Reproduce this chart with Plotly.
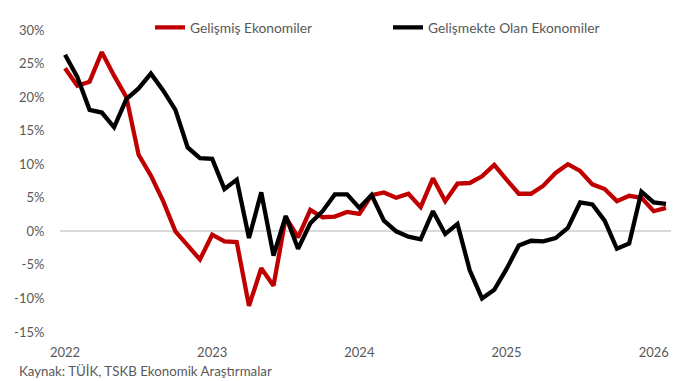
import plotly.graph_objects as go

months = [f"{y}-{m:02d}" for y in range(2022, 2027) for m in range(1, 13)][:50]

gelismis = [24.3, 21.7, 22.3, 26.7, 23.2, 20.0, 11.4, 8.3, 4.5, 0.0,
            -2.1, -4.2, -0.5, -1.5, -1.6, -11.1, -5.5, -8.1, 2.1, -0.9,
            3.2, 2.1, 2.2, 2.9, 2.6, 5.4, 5.8, 5.0, 5.6, 3.6,
            7.9, 4.5, 7.1, 7.2, 8.2, 9.9, 7.7, 5.6, 5.6, 6.8,
            8.7, 10.0, 9.0, 7.0, 6.3, 4.5, 5.3, 5.0, 3.0, 3.5]

gelismekte = [26.3, 23.0, 18.1, 17.7, 15.5, 19.7, 21.3, 23.5, 21.0, 18.1,
              12.5, 10.9, 10.8, 6.3, 7.7, -1.0, 5.8, -3.6, 2.3, -2.6,
              1.2, 3.0, 5.5, 5.5, 3.5, 5.4, 1.6, 0.0, -0.8, -1.2,
              3.0, -0.4, 1.1, -5.8, -10.0, -8.7, -5.6, -2.1, -1.4, -1.5,
              -1.0, 0.5, 4.3, 4.0, 1.6, -2.6, -1.8, 5.9, 4.3, 4.1]

x_tickvals = ["2022-01", "2023-01", "2024-01", "2025-01", "2026-01"]
x_ticktext = ["2022", "2023", "2024", "2025", "2026"]
y_tickvals = [-15, -10, -5, 0, 5, 10, 15, 20, 25, 30]
y_ticktext = ["-15%", "-10%", "-5%", "0%", "5%", "10%", "15%", "20%", "25%", "30%"]

FONT = "Lato"
GRAY = "#595959"

fig = go.Figure()
fig.add_trace(go.Scatter(x=months, y=gelismis, mode="lines", name="Gelişmiş Ekonomiler",
                         line=dict(color="#C00000", width=4.3), legend="legend"))
fig.add_trace(go.Scatter(x=months, y=gelismekte, mode="lines", name="Gelişmekte Olan Ekonomiler",
                         line=dict(color="#000000", width=4.3), legend="legend2"))

leg_common = dict(orientation="h", yanchor="middle", xanchor="left",
                  font=dict(family=FONT, size=13.8, color=GRAY), bgcolor="rgba(0,0,0,0)",
                  borderwidth=0)
ly = (332 - 25) / 304.3

fig.update_layout(
    width=688, height=381,
    margin=dict(l=60, r=17, t=28, b=49),
    paper_bgcolor="white", plot_bgcolor="white",
    font=dict(family=FONT, size=13, color=GRAY),
    showlegend=True,
    legend=dict(x=(150 - 60) / 611, y=ly, **leg_common),
    legend2=dict(x=(388 - 60) / 611, y=ly, **leg_common),
    xaxis=dict(type="category", range=[-0.41, 49.41], tickvals=x_tickvals, ticktext=x_ticktext,
               showgrid=False, zeroline=False, showline=False,
               ticks="outside", ticklen=8, tickcolor="rgba(0,0,0,0)"),
    yaxis=dict(range=[-15, 30], tickvals=y_tickvals, ticktext=y_ticktext,
               showgrid=False, zeroline=True, zerolinecolor="#D9D9D9", zerolinewidth=2,
               showline=False, ticks="outside", ticklen=12, tickcolor="rgba(0,0,0,0)"),
    annotations=[dict(text="Kaynak: TÜİK, TSKB Ekonomik Araştırmalar", xref="paper", yref="paper",
                      x=(17 - 60) / 611, y=(332 - 371.7) / 304.3, xanchor="left", yanchor="middle",
                      showarrow=False, font=dict(family=FONT, size=13.3, color=GRAY))],
)

fig.write_html("out.html")
